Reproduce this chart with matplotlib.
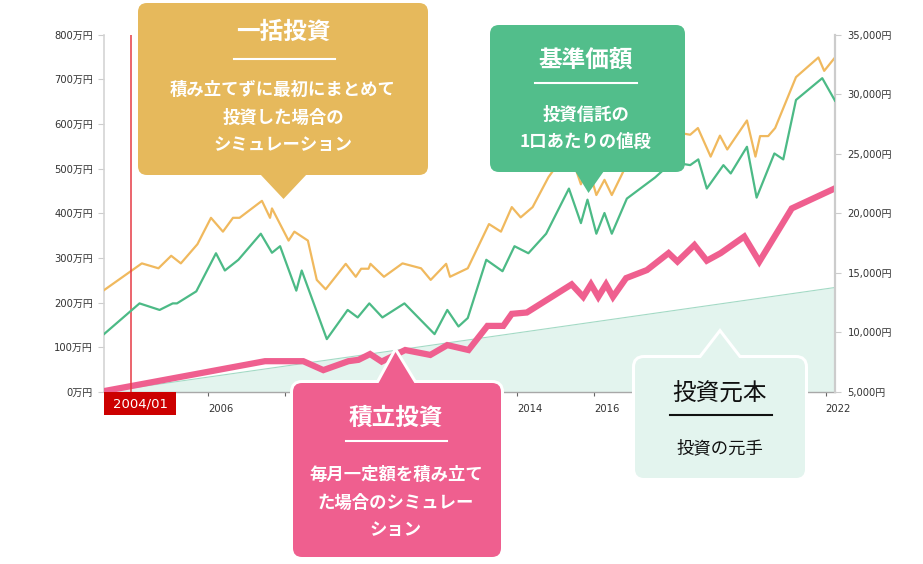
import matplotlib
matplotlib.use('Agg')
import matplotlib.pyplot as plt
from matplotlib.patches import FancyBboxPatch, Polygon, Rectangle
from matplotlib.transforms import Affine2D
import matplotlib.lines as mlines

plt.rcParams['font.family'] = ['DejaVu Sans', 'Noto Sans CJK JP']

# ---------------- data ----------------
gold_x = [2003.31, 2004.29, 2004.72, 2005.05, 2005.30, 2005.73, 2006.08, 2006.39, 2006.65, 2006.82,
          2007.40, 2007.61, 2007.66, 2008.09, 2008.24, 2008.59, 2008.82, 2009.05, 2009.57, 2009.83,
          2009.97, 2010.16, 2010.21, 2010.56, 2011.04, 2011.52, 2011.77, 2012.17, 2012.27, 2012.73,
          2013.28, 2013.59, 2013.87, 2014.10, 2014.41, 2014.82, 2015.35, 2015.66, 2015.83, 2016.06,
          2016.27, 2016.46, 2016.85, 2017.58, 2018.02, 2018.49, 2018.69, 2019.02, 2019.26, 2019.45,
          2019.96, 2020.18, 2020.30, 2020.51, 2020.69, 2021.23, 2021.81, 2021.96, 2022.24]
gold_y = [228, 288, 277, 305, 288, 331, 390, 359, 390, 390,
          428, 390, 411, 339, 359, 339, 251, 230, 287, 258,
          276, 276, 287, 258, 288, 277, 251, 287, 258, 277,
          376, 359, 414, 391, 414, 481, 545, 465, 510, 441,
          475, 441, 510, 552, 583, 576, 591, 527, 574, 543,
          608, 527, 573, 573, 591, 705, 749, 719, 749]

green_x = [2003.31, 2004.23, 2004.75, 2005.09, 2005.20, 2005.70, 2006.21, 2006.44, 2006.79, 2007.37,
           2007.66, 2007.87, 2008.29, 2008.43, 2009.08, 2009.62, 2009.88, 2010.18, 2010.52, 2011.09,
           2011.87, 2012.20, 2012.49, 2012.73, 2013.21, 2013.63, 2013.94, 2014.30, 2014.76, 2015.35,
           2015.66, 2015.83, 2016.06, 2016.27, 2016.46, 2016.85, 2017.58, 2018.02, 2018.49, 2018.70,
           2018.92, 2019.35, 2019.54, 2019.96, 2020.21, 2020.67, 2020.90, 2021.23, 2021.91, 2022.24]
green_y = [9860, 12440, 11890, 12440, 12440, 13450, 16650, 15200, 16100, 18290,
           16690, 17240, 13510, 15200, 9440, 11890, 11260, 12440, 11260, 12440,
           9860, 11890, 10500, 11210, 16100, 15140, 17240, 16650, 18290, 22080,
           19180, 21150, 18290, 20030, 18290, 21240, 23010, 24300, 24050, 24530,
           22080, 24050, 23350, 25590, 21320, 25030, 24530, 29520, 31350, 29460]

pink_x = [2003.31, 2007.48, 2008.47, 2008.99, 2009.64, 2009.90, 2010.20, 2010.50, 2011.11, 2011.76,
          2012.20, 2012.75, 2013.24, 2013.65, 2013.87, 2014.26, 2015.42, 2015.72, 2015.92, 2016.11,
          2016.31, 2016.49, 2016.83, 2017.37, 2017.93, 2018.16, 2018.60, 2018.92, 2019.28, 2019.89,
          2020.28, 2021.12, 2022.24]
pink_y = [2, 69, 69, 49, 69, 72, 85, 68, 94, 83,
          105, 94, 148, 148, 175, 178, 241, 213, 241, 213,
          241, 213, 255, 273, 311, 292, 329, 294, 311, 348,
          292, 411, 456]

principal_x = [2003.31, 2022.24]
principal_y = [0, 234]

left_ticks = [0, 100, 200, 300, 400, 500, 600, 700, 800]
left_labels = [f'{v}万円' for v in left_ticks]
right_ticks = [5000, 10000, 15000, 20000, 25000, 30000, 35000]
right_labels = [f'{v:,}円' for v in right_ticks]
x_ticks = [2006, 2008, 2010, 2012, 2014, 2016, 2018, 2020, 2022]
# labels for 2008-2012 and 2018-2020 are hidden behind the callouts in the original
x_labels = ['2006', '', '', '', '2014', '2016', '', '', '2022']
start_year = 2004.0
start_label = '2004/01'

gold_title, gold_body = '一括投資', ['積み立てずに最初にまとめて', '投資した場合の', 'シミュレーション']
green_title, green_body = '基準価額', ['投資信託の', '1口あたりの値段']
pink_title, pink_body = '積立投資', ['毎月一定額を積み立て', 'た場合のシミュレー', 'ション']
base_title, base_body = '投資元本', ['投資の元手']

# ---------------- figure ----------------
W, H = 923, 564
fig = plt.figure(figsize=(W / 100, H / 100), dpi=100)
ax = fig.add_axes([104 / W, 1 - 392 / H, (835 - 104) / W, (392 - 34.7) / H])
ax.set_xlim(2003.31, 2022.24)
ax.set_ylim(0, 800)
ax2 = ax.twinx()
ax2.set_ylim(5000, 35000)

ax.fill_between(principal_x, principal_y, 0, color='#e3f4ee', lw=0, zorder=1)
ax.plot(principal_x, principal_y, color='#a3dac5', lw=0.8, zorder=2)
ax.plot(gold_x, gold_y, color='#f0b95e', lw=1.6, zorder=3)
ax.plot(pink_x, pink_y, color='#ef5f8f', lw=4.5, zorder=4, solid_joinstyle='miter')
ax2.plot(green_x, green_y, color='#4cba86', lw=1.6, zorder=3)
ax.axvline(start_year, color='#e63b45', lw=1.1, zorder=5)

for s in ['top', 'right']:
    ax.spines[s].set_visible(False)
for s in ['top', 'left', 'bottom']:
    ax2.spines[s].set_visible(False)
ax.spines['left'].set_color('#d4d4d4')
ax.spines['left'].set_linewidth(1.2)
ax.spines['bottom'].set_color('#a8a8a8')
ax.spines['bottom'].set_linewidth(1)
ax2.spines['right'].set_color('#cccccc')
ax2.spines['right'].set_linewidth(1.6)

ax.set_xticks(x_ticks, x_labels)
ax.tick_params(axis='x', length=3, color='#666666', labelsize=7.2, labelcolor='#333333', pad=6)
for lbl in ax.get_xticklabels():
    lbl.set_ha('left')
ax.set_yticks(left_ticks, left_labels)
ax.tick_params(axis='y', length=4, color='#cccccc', labelsize=7.2, labelcolor='#333333', pad=4)
ax2.set_yticks(right_ticks, right_labels)
ax2.tick_params(axis='y', length=4, color='#cccccc', labelsize=7.2, labelcolor='#333333', pad=5)

# pixel transform (origin top-left)
px = Affine2D().scale(1 / W, -1 / H).translate(0, 1) + fig.transFigure

# start label
fig.add_artist(Rectangle((104, 392), 72, 23, transform=px, facecolor='#cc0000', edgecolor='none', zorder=6))
fig.text(140, 404, start_label, transform=px, ha='center', va='center', color='white', fontsize=9.5, zorder=7)

JP = ['Noto Sans CJK JP', 'DejaVu Sans']


def callout(x0, y0, x1, y1, tri, face, border=None, bw=0, z=20):
    box = dict(xy=(x0, y0), width=x1 - x0, height=y1 - y0, boxstyle='round,pad=0,rounding_size=9', transform=px)
    if border:
        fig.add_artist(FancyBboxPatch(**box, facecolor=border, edgecolor=border, lw=bw * 2 * 0.72, zorder=z))
        fig.add_artist(Polygon(tri, closed=True, transform=px, facecolor=border, edgecolor=border,
                               lw=bw * 2 * 0.72, joinstyle='miter', zorder=z))
    fig.add_artist(FancyBboxPatch(**box, facecolor=face, edgecolor='none', zorder=z + 1))
    fig.add_artist(Polygon(tri, closed=True, transform=px, facecolor=face, edgecolor='none', zorder=z + 1))


def texts(cx, ty, title, uy, ux0, ux1, body, by, step, color, tsize, bsize, weight):
    fig.text(cx, ty, title, transform=px, ha='center', va='center', color=color, fontsize=tsize,
             fontweight=weight, family=JP, zorder=30)
    fig.add_artist(mlines.Line2D([ux0, ux1], [uy, uy], transform=px, color=color, lw=1.5, zorder=30))
    for i, line in enumerate(body):
        fig.text(cx, by + i * step, line, transform=px, ha='center', va='center', color=color,
                 fontsize=bsize, fontweight=weight, family=JP, zorder=30)


# 一括投資 (gold)
callout(138, 3, 428, 175, [(260, 174), (307, 174), (283.5, 199)], '#e6b95c')
texts(283, 32, gold_title, 58.5, 234, 335, gold_body, 90, 27.5, 'white', 17, 12.5, 'bold')

# 基準価額 (green)
callout(490, 25, 685, 172, [(575, 171), (604, 171), (588.5, 193)], '#52be8b')
texts(586, 60, green_title, 82.5, 535, 637, green_body, 115, 27, 'white', 17, 12.5, 'bold')

# 積立投資 (pink)
callout(293, 383, 501, 557, [(378, 384), (415, 384), (395.5, 352)], '#ef5f8f', border='white', bw=3)
texts(396, 418, pink_title, 441, 346, 447, pink_body, 475, 27.5, 'white', 17, 12.5, 'bold')

# 投資元本 (principal)
callout(635, 358, 805, 478, [(700, 359), (740, 359), (720, 333)], '#e3f4ee', border='white', bw=3)
texts(720, 394, base_title, 415, 670, 772, base_body, 448, 27, '#111111', 17, 12.5, 'normal')

fig.savefig('out.png', dpi=100)
